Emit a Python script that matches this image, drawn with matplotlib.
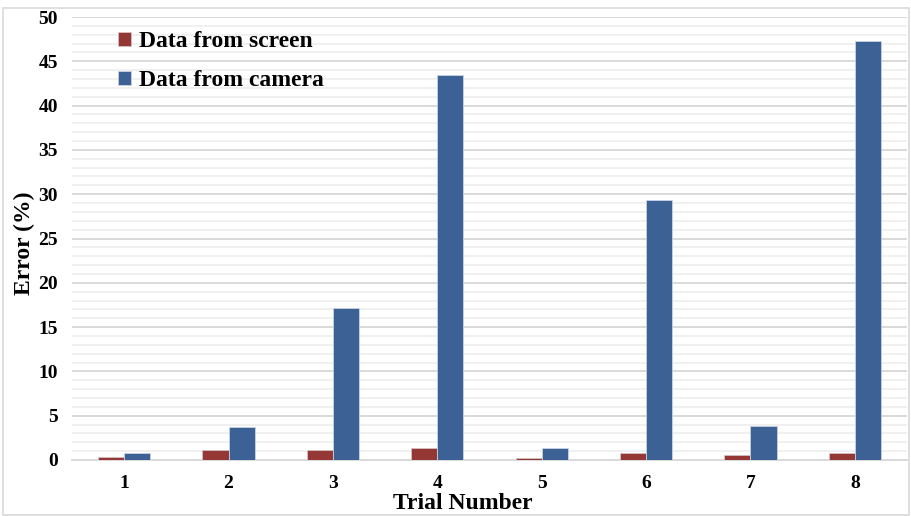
import matplotlib
matplotlib.use("Agg")
import matplotlib.pyplot as plt
from matplotlib.patches import Rectangle
from matplotlib.ticker import MultipleLocator
import numpy as np

trials = ["1", "2", "3", "4", "5", "6", "7", "8"]
screen_err = [0.37, 1.13, 1.1, 1.32, 0.23, 0.83, 0.6, 0.83]
camera_err = [0.83, 3.76, 17.2, 43.4, 1.39, 29.4, 3.87, 47.3]

RED = "#953735"
BLUE = "#3c6194"

plt.rcParams["font.family"] = ["Liberation Serif", "DejaVu Serif"]
plt.rcParams["font.weight"] = "bold"

fig = plt.figure(figsize=(9.11, 5.16), dpi=100)
ax = fig.add_axes([72 / 911, 56 / 516, 835 / 911, 443 / 516])

x = np.arange(len(trials))
w = 0.25
ax.bar(x - w / 2, screen_err, w, color=RED, edgecolor="#d8c9c9", linewidth=0.5,
       label="Data from screen", zorder=3)
ax.bar(x + w / 2, camera_err, w, color=BLUE, edgecolor="#c9d3e3", linewidth=0.6,
       label="Data from camera", zorder=3)

ax.set_xlim(-0.5, len(trials) - 0.5)
ax.set_ylim(0, 50)
ax.set_xticks(x)
ax.set_xticklabels(trials)
ax.yaxis.set_major_locator(MultipleLocator(5))
ax.yaxis.set_minor_locator(MultipleLocator(1))
ax.grid(axis="y", which="major", color="#d9d9d9", lw=1.4, zorder=0)
ax.grid(axis="y", which="minor", color="#f0f0f0", lw=1.4, zorder=0)
ax.tick_params(axis="both", which="both", length=0, labelsize=14)
ax.tick_params(axis="x", pad=11)
ax.tick_params(axis="y", pad=10)
for s in ["top", "right", "left"]:
    ax.spines[s].set_visible(False)
ax.spines["bottom"].set_color("#d9d9d9")
ax.spines["bottom"].set_linewidth(1.4)

ax.set_xlabel("Trial Number", fontsize=17, fontweight="bold")
ax.xaxis.set_label_coords(0.468, -0.075)
ax.set_ylabel("Error (%)", fontsize=17, fontweight="bold")
ax.yaxis.set_label_coords(-0.044, 0.49)

ax.legend(loc="upper left", bbox_to_anchor=(0.035, 1.005), frameon=False,
          fontsize=17, handlelength=0.55, handleheight=0.55, handletextpad=0.35,
          labelspacing=0.75, borderaxespad=0.3)

# light frame around the whole figure
fig.patches.append(Rectangle((3 / 911, 1 / 516), 906 / 911, 507 / 516,
                             transform=fig.transFigure, fill=False,
                             edgecolor="#d9d9d9", lw=1.2))

fig.savefig("out.png", dpi=100)
